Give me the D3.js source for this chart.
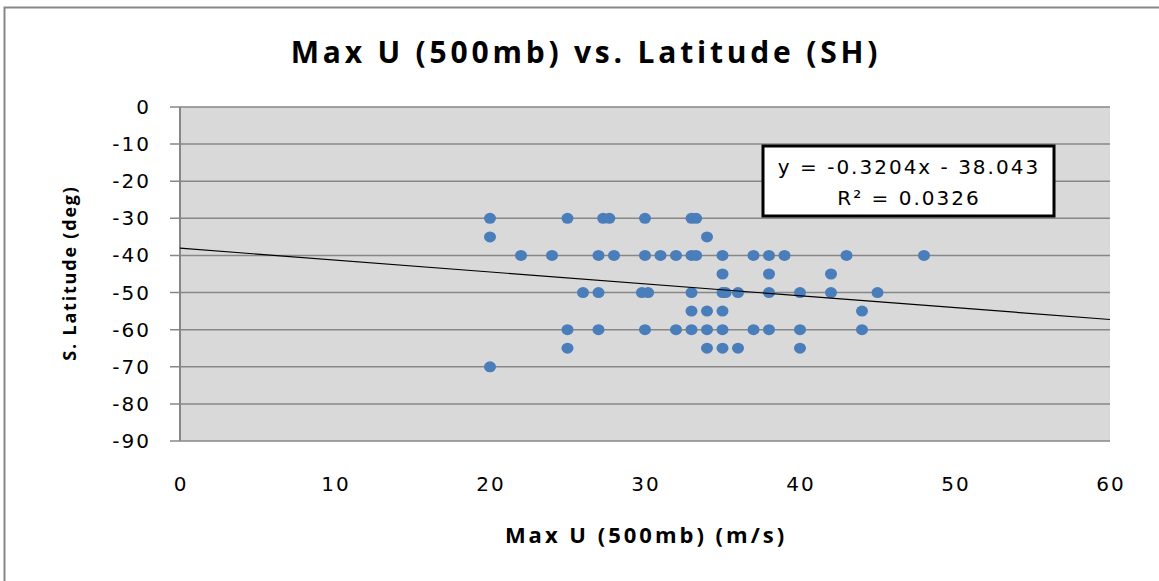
<!DOCTYPE html>
<html>
<head>
<meta charset="utf-8">
<script src="https://cdn.jsdelivr.net/npm/d3@7"></script>
<style>
  html, body { margin: 0; padding: 0; background: #fff; }
  svg { display: block; }
  .tick-label { font-family: "DejaVu Sans", sans-serif; font-size: 20px; letter-spacing: 2px; fill: #000; }
  .bold { font-family: "Open Sans", "DejaVu Sans", sans-serif; font-weight: bold; fill: #000; }
</style>
</head>
<body>
<svg id="chart" width="1159" height="581"></svg>
<script>
// 数据: 最大纬向风 (m/s) 与 纬度 (deg)
const windSpeed = [
    20, 25, 27.3, 27.7, 30, 33, 33.3,
    20, 34,
    22, 24, 27, 28, 30, 31, 32, 33, 33.3, 35, 37, 38, 39, 43, 48,
    35, 38, 42,
    26, 27, 29.8, 30.2, 33, 35, 35.2, 36, 38, 40, 42, 45,
    33, 34, 35, 44,
    25, 27, 30, 32, 33, 34, 35, 37, 38, 40, 44,
    25, 34, 35, 36, 40,
    20
];
const latitude = [
    -30, -30, -30, -30, -30, -30, -30,
    -35, -35,
    -40, -40, -40, -40, -40, -40, -40, -40, -40, -40, -40, -40, -40, -40, -40,
    -45, -45, -45,
    -50, -50, -50, -50, -50, -50, -50, -50, -50, -50, -50, -50,
    -55, -55, -55, -55,
    -60, -60, -60, -60, -60, -60, -60, -60, -60, -60, -60,
    -65, -65, -65, -65, -65,
    -70
];
const xTicks = [0, 10, 20, 30, 40, 50, 60];
const yTicks = [0, -10, -20, -30, -40, -50, -60, -70, -80, -90];
const trendSlope = -0.3204;
const trendIntercept = -38.043;
const trendLabel = ["y = -0.3204x - 38.043", "R² = 0.0326"];

const svg = d3.select("#chart");

// 外框
svg.append("rect")
    .attr("x", 4.5).attr("y", 7.5)
    .attr("width", 1170).attr("height", 590)
    .attr("fill", "#fff")
    .attr("stroke", "#878787")
    .attr("stroke-width", 2);

const plot = { left: 180, right: 1110, top: 107, bottom: 441 };

const x = d3.scaleLinear().domain([0, 60]).range([plot.left, plot.right]);
const y = d3.scaleLinear().domain([-90, 0]).range([plot.bottom, plot.top]);

// 绘图区背景
svg.append("rect")
    .attr("x", plot.left).attr("y", plot.top)
    .attr("width", plot.right - plot.left)
    .attr("height", plot.bottom - plot.top)
    .attr("fill", "#d9d9d9");

// 网格线
svg.append("g")
    .selectAll("line")
    .data(yTicks)
    .enter()
    .append("line")
    .attr("x1", plot.left - 10)
    .attr("x2", plot.right)
    .attr("y1", d => y(d))
    .attr("y2", d => y(d))
    .attr("stroke", "#878787")
    .attr("stroke-width", 1.5);

// 左轴线
svg.append("line")
    .attr("x1", plot.left).attr("x2", plot.left)
    .attr("y1", plot.top).attr("y2", plot.bottom)
    .attr("stroke", "#878787")
    .attr("stroke-width", 2);

// Y轴刻度标签
svg.append("g")
    .selectAll("text")
    .data(yTicks)
    .enter()
    .append("text")
    .attr("class", "tick-label")
    .attr("x", 151)
    .attr("y", d => y(d) + 7)
    .attr("text-anchor", "end")
    .text(d => d);

// X轴刻度标签
svg.append("g")
    .selectAll("text")
    .data(xTicks)
    .enter()
    .append("text")
    .attr("class", "tick-label")
    .attr("x", d => x(d) + 1)
    .attr("y", 491)
    .attr("text-anchor", "middle")
    .text(d => d);

// 散点
svg.append("g")
    .selectAll("ellipse")
    .data(windSpeed.map((v, i) => [v, latitude[i]]))
    .enter()
    .append("ellipse")
    .attr("cx", d => x(d[0]))
    .attr("cy", d => y(d[1]))
    .attr("rx", 6)
    .attr("ry", 5.5)
    .attr("fill", "#4a7ebb");

// 趋势线
svg.append("line")
    .attr("x1", x(0)).attr("y1", y(trendIntercept))
    .attr("x2", x(60)).attr("y2", y(trendSlope * 60 + trendIntercept))
    .attr("stroke", "#000")
    .attr("stroke-width", 1.2);

// 公式框
svg.append("rect")
    .attr("x", 763).attr("y", 146)
    .attr("width", 291).attr("height", 70)
    .attr("fill", "#fff")
    .attr("stroke", "#000")
    .attr("stroke-width", 3);

svg.append("g")
    .selectAll("text")
    .data(trendLabel)
    .enter()
    .append("text")
    .attr("class", "tick-label")
    .attr("x", 909)
    .attr("y", (d, i) => 174 + i * 31)
    .attr("text-anchor", "middle")
    .style("letter-spacing", "2px")
    .text(d => d);

// 标题
svg.append("text")
    .attr("class", "bold")
    .attr("x", 586)
    .attr("y", 63)
    .attr("text-anchor", "middle")
    .style("font-size", "30px")
    .style("letter-spacing", "3.8px")
    .text("Max U (500mb) vs. Latitude (SH)");

// X轴标题
svg.append("text")
    .attr("class", "bold")
    .attr("x", 646)
    .attr("y", 543)
    .attr("text-anchor", "middle")
    .style("font-size", "22px")
    .style("letter-spacing", "3px")
    .text("Max U (500mb) (m/s)");

// Y轴标题
svg.append("text")
    .attr("class", "bold")
    .attr("transform", "translate(76,273) rotate(-90)")
    .attr("text-anchor", "middle")
    .style("font-size", "18px")
    .style("letter-spacing", "1.8px")
    .text("S. Latitude (deg)");
</script>
</body>
</html>
